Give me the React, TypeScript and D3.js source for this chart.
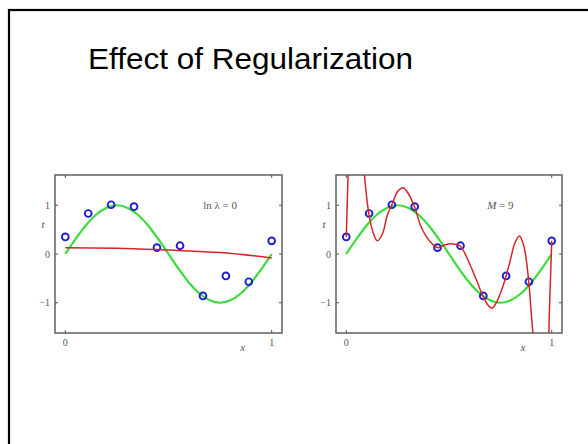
import React from 'react';
import { scaleLinear, line, curveCatmullRom, curveMonotoneX } from 'd3';

// training points, x = 0, 1/9, ... 1
const pointX = [0, 0.111, 0.222, 0.333, 0.444, 0.556, 0.667, 0.778, 0.889, 1];
const pointT = [0.35, 0.83, 1.01, 0.97, 0.13, 0.17, -0.86, -0.45, -0.57, 0.27];

// green curve (true function), read every 0.05
const greenX = [0, 0.05, 0.1, 0.15, 0.2, 0.25, 0.3, 0.35, 0.4, 0.45, 0.5,
  0.55, 0.6, 0.65, 0.7, 0.75, 0.8, 0.85, 0.9, 0.95, 1];
const greenT = [0, 0.31, 0.59, 0.81, 0.95, 1.0, 0.95, 0.81, 0.59, 0.31, 0,
  -0.31, -0.59, -0.81, -0.95, -1.0, -0.95, -0.81, -0.59, -0.31, 0];

// red fit, ln lambda = 0
const regX = [0, 0.25, 0.5, 0.75, 1];
const regT = [0.13, 0.12, 0.08, 0.03, -0.08];

// red fit, M = 9 (runs off the axes, clipped)
const overX = [0, 0.008, 0.02, 0.045, 0.07, 0.089, 0.11, 0.13, 0.151, 0.175, 0.2,
  0.222, 0.25, 0.276, 0.3, 0.332, 0.36, 0.389, 0.42, 0.446, 0.475, 0.503, 0.53,
  0.556, 0.6, 0.635, 0.665, 0.69, 0.71, 0.73, 0.755, 0.778, 0.8, 0.82, 0.843,
  0.865, 0.888, 0.9, 0.91, 0.93, 0.96, 0.98, 0.99, 1];
const overT = [0.35, 1.5, 3.0, 4.0, 3.0, 1.6, 0.83, 0.45, 0.27, 0.4, 0.8,
  1.01, 1.28, 1.36, 1.25, 0.97, 0.6, 0.36, 0.2, 0.13, 0.18, 0.21, 0.2,
  0.16, -0.2, -0.55, -0.86, -1.05, -1.11, -1.0, -0.75, -0.45, -0.1, 0.22, 0.37,
  0.15, -0.56, -1.2, -1.7, -2.6, -3.0, -2.2, -1.0, 0.27];

const yTicks = [1, 0, -1];
const xTicks = [0, 1];

const W = 588;
const H = 444;
const serif = '"Liberation Serif", "DejaVu Serif", serif';

type PanelProps = {
  id: string;
  left: number;
  right: number;
  label: React.ReactNode;
  redX: number[];
  redT: number[];
  redSmooth: boolean;
};

const Panel = ({ id, left, right, label, redX, redT, redSmooth }: PanelProps) => {
  const top = 175;
  const bottom = 333;
  const x = scaleLinear().domain([-0.05, 1.05]).range([left, right]);
  const y = scaleLinear().domain([-1.62, 1.62]).range([bottom, top]);

  const path = line<number>()
    .x((_, i) => x(greenX[i]))
    .y((d) => y(d))
    .curve(curveMonotoneX);

  const redPath = line<number>()
    .x((_, i) => x(redX[i]))
    .y((d) => y(d))
    .curve(redSmooth ? curveCatmullRom.alpha(0.5) : curveMonotoneX);

  const circles = pointT.map((d, i) => (
    <circle key={i} cx={x(pointX[i])} cy={y(d)} r={3.4}
      fill="none" stroke="#1f1fd0" strokeWidth={1.9} />
  ));

  return (
    <g>
      <defs>
        <clipPath id={`clip-${id}`}>
          <rect x={left} y={top} width={right - left} height={bottom - top} />
        </clipPath>
      </defs>
      <g clipPath={`url(#clip-${id})`}>
        <path d={path(greenT) ?? ''} fill="none" stroke="#3cdc3c" strokeWidth={2.2} />
        {circles}
        <path d={redPath(redT) ?? ''} fill="none" stroke="#d42626" strokeWidth={1.5} />
      </g>
      <rect x={left} y={top} width={right - left} height={bottom - top}
        fill="none" stroke="#555" strokeWidth={1.4} />
      {yTicks.map((t) => (
        <g key={t}>
          <line x1={left} x2={left + 3} y1={y(t)} y2={y(t)} stroke="#555" />
          <line x1={right} x2={right - 3} y1={y(t)} y2={y(t)} stroke="#555" />
          <text x={left - 5} y={y(t)} dy="0.35em" textAnchor="end"
            fontFamily={serif} fontSize={10} fill="#555">
            {t < 0 ? `\u2212${-t}` : t}
          </text>
        </g>
      ))}
      {xTicks.map((t) => (
        <g key={t}>
          <line x1={x(t)} x2={x(t)} y1={bottom} y2={bottom - 3} stroke="#555" />
          <line x1={x(t)} x2={x(t)} y1={top} y2={top + 3} stroke="#555" />
          <text x={x(t)} y={bottom + 13} textAnchor="middle"
            fontFamily={serif} fontSize={10} fill="#555">{t}</text>
        </g>
      ))}
      <text x={left - 12} y={228} textAnchor="middle" fontFamily={serif}
        fontStyle="italic" fontSize={11} fill="#555">t</text>
      <text x={x(0.86)} y={351} textAnchor="middle" fontFamily={serif}
        fontStyle="italic" fontSize={11} fill="#555">x</text>
      <text x={x(0.75)} y={209} textAnchor="middle" fontFamily={serif}
        fontSize={11} fill="#555">{label}</text>
    </g>
  );
};

const App = () => (
  <svg width={W} height={H} style={{ position: 'absolute', left: 0, top: 0 }}>
    <rect x={0} y={0} width={W} height={H} fill="#fff" />
    <rect x={9} y={10} width={W + 20} height={H + 20} fill="none" stroke="#000" strokeWidth={2.2} />
    <text x={88} y={69} fontFamily='"Liberation Sans", Arial, sans-serif' fontSize={30}
      textLength={325} lengthAdjust="spacingAndGlyphs" fill="#000">
      Effect of Regularization
    </text>
    <Panel id="reg" left={55} right={282} label={'ln \u03bb = 0'}
      redX={regX} redT={regT} redSmooth={false} />
    <Panel id="over" left={336} right={562}
      label={<><tspan fontStyle="italic">M</tspan> = 9</>}
      redX={overX} redT={overT} redSmooth />
  </svg>
);

export default App;
